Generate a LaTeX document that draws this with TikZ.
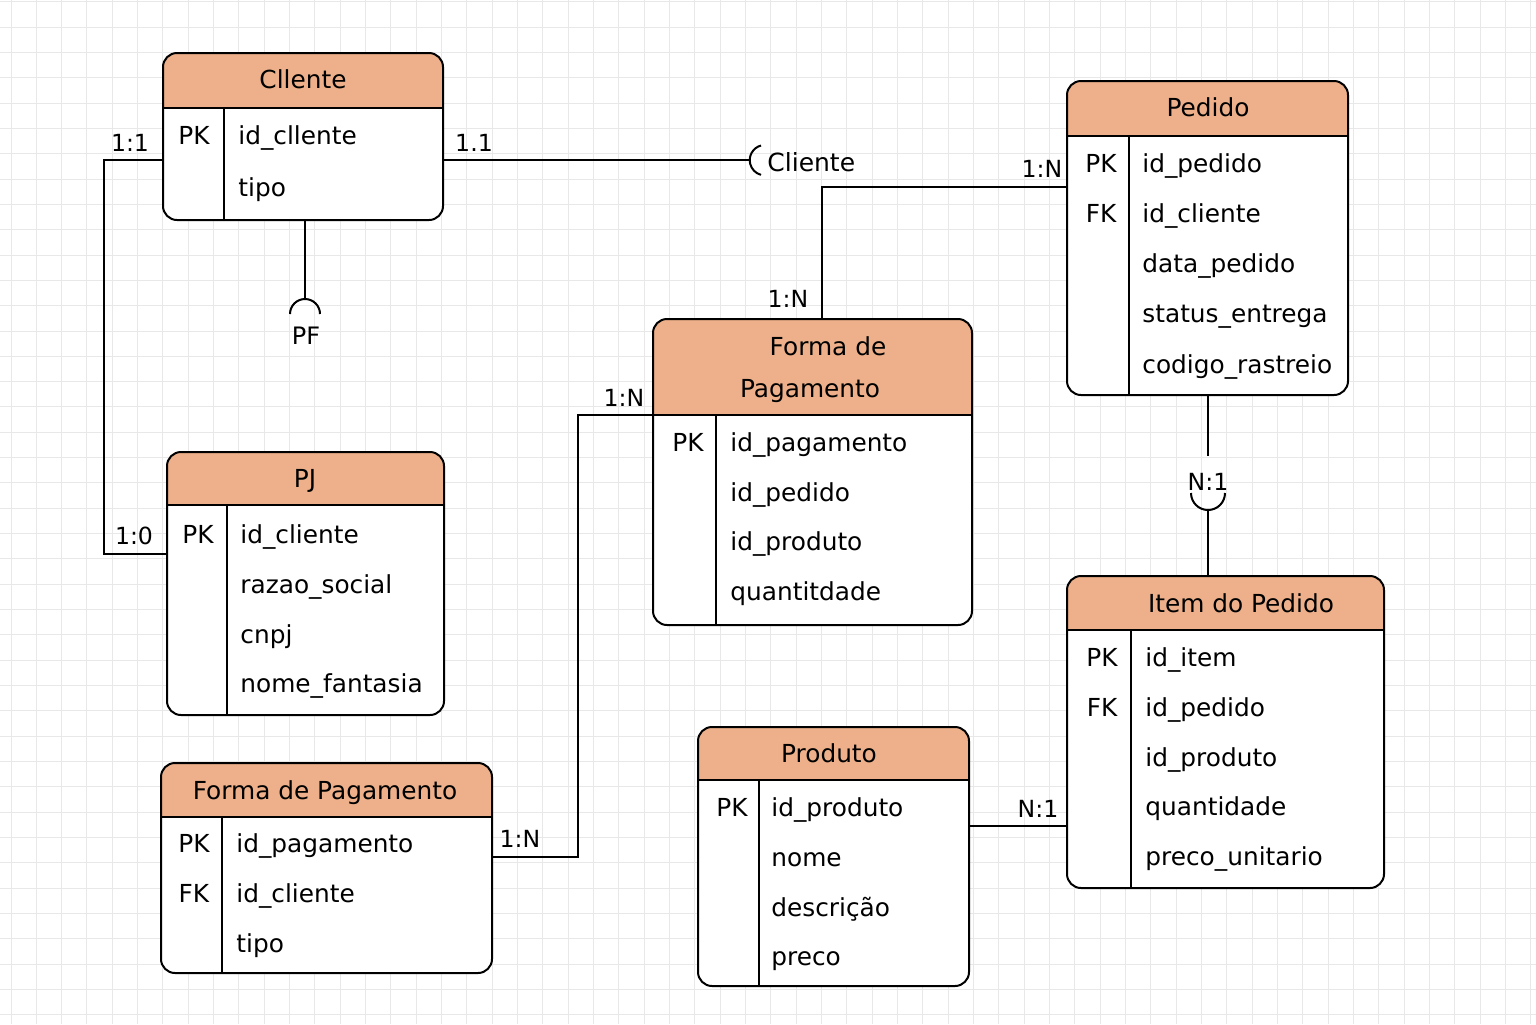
\documentclass[tikz,border=0pt]{standalone}
\usepackage{fontspec}
\setmainfont{DejaVu Sans}
\definecolor{gridc}{HTML}{E8E8E8}
\definecolor{headc}{HTML}{EDB08A}
\tikzset{
  gridln/.style={draw=gridc, line width=0.5pt},
  tbl/.style={draw=black, line width=1pt, rounded corners=7pt, inner sep=0pt, outer sep=0pt},
  tline/.style={line width=1pt},
  hdfill/.style={fill=headc},
  conn/.style={line width=1pt},
  attr/.style={anchor=base west, inner sep=0pt, font=\fontsize{12.4}{14}\selectfont},
  keyt/.style={anchor=base, inner sep=0pt, font=\fontsize{12.4}{14}\selectfont},
  ttl/.style={anchor=base, inner sep=0pt, font=\fontsize{12.4}{14}\selectfont},
  card/.style={anchor=base, inner sep=0pt, font=\fontsize{11.8}{13}\selectfont},
}
\newcommand\ertable[7]{%
  \begin{scope}
    \clip[rounded corners=7pt] (#2,#3) rectangle (#4,#5);
    \fill[white] (#2,#3) rectangle (#4,#5);
    \fill[hdfill] (#2,#3) rectangle (#4,#6);
  \end{scope}
  \draw[tline] (#2,#6) -- (#4,#6) (#7,#6) -- (#7,#5);
  \node[tbl, minimum width={(#4-#2)*0.5pt}, minimum height={(#5-#3)*0.5pt}] (#1) at ({(#2+#4)/2},{(#3+#5)/2}) {};
}
\newcommand\errow[6]{%
  \node[keyt] (#1k) at ({#2},{#4+9}) {#5};
  \node[attr] (#1a) at ({#3},{#4+9}) {#6};
}
\begin{document}
\begin{tikzpicture}[x=0.5pt,y=-0.5pt]
\useasboundingbox (0,0) rectangle (1536,1024);
\fill[white] (0,0) rectangle (1536,1024);
\foreach \i in {0,...,60} \draw[gridln] ({11+25.33*\i},0) -- ({11+25.33*\i},1024);
\foreach \j in {0,...,40} \draw[gridln] (0,{1.7+25.33*\j}) -- (1536,{1.7+25.33*\j});

% ---------- tables ----------
\ertable{cliente}{163}{53}{443}{220}{108}{224}
\node[ttl] (clienteT) at (303,88) {Cllente};
\errow{cliR1}{194}{238}{135}{PK}{id\_cllente}
\errow{cliR2}{194}{238}{187}{}{tipo}

\ertable{pj}{167}{452}{444}{715}{505}{227}
\node[ttl] (pjT) at (305,487) {PJ};
\errow{pjR1}{198}{240}{534}{PK}{id\_cliente}
\errow{pjR2}{198}{240}{584}{}{razao\_social}
\errow{pjR3}{198}{240}{634}{}{cnpj}
\errow{pjR4}{198}{240}{683}{}{nome\_fantasia}

\ertable{fpa}{161}{763}{492}{973}{817}{222}
\node[ttl] (fpaT) at (325,799) {Forma de Pagamento};
\errow{fpaR1}{194}{236}{843}{PK}{id\_pagamento}
\errow{fpaR2}{194}{236}{893}{FK}{id\_cliente}
\errow{fpaR3}{194}{236}{943}{}{tipo}

\ertable{fpb}{653}{319}{972}{625}{415}{716}
\node[ttl] (fpbT1) at (828,355) {Forma de};
\node[ttl] (fpbT2) at (810,397) {Pagamento};
\errow{fpbR1}{688}{730}{442}{PK}{id\_pagamento}
\errow{fpbR2}{688}{730}{492}{}{id\_pedido}
\errow{fpbR3}{688}{730}{541}{}{id\_produto}
\errow{fpbR4}{688}{730}{591}{}{quantitdade}

\ertable{produto}{698}{727}{969}{986}{780}{759}
\node[ttl] (produtoT) at (829,762) {Produto};
\errow{prR1}{732}{771}{807}{PK}{id\_produto}
\errow{prR2}{732}{771}{857}{}{nome}
\errow{prR3}{732}{771}{907}{}{descrição}
\errow{prR4}{732}{771}{956}{}{preco}

\ertable{pedido}{1067}{81}{1348}{395}{136}{1129}
\node[ttl] (pedidoT) at (1208,116) {Pedido};
\errow{peR1}{1101}{1142}{163}{PK}{id\_pedido}
\errow{peR2}{1101}{1142}{213}{FK}{id\_cliente}
\errow{peR3}{1101}{1142}{263}{}{data\_pedido}
\errow{peR4}{1101}{1142}{313}{}{status\_entrega}
\errow{peR5}{1101}{1142}{364}{}{codigo\_rastreio}

\ertable{item}{1067}{576}{1384}{888}{630}{1131}
\node[ttl] (itemT) at (1241,612) {Item do Pedido};
\errow{itR1}{1102}{1145}{657}{PK}{id\_item}
\errow{itR2}{1102}{1145}{707}{FK}{id\_pedido}
\errow{itR3}{1102}{1145}{757}{}{id\_produto}
\errow{itR4}{1102}{1145}{806}{}{quantidade}
\errow{itR5}{1102}{1145}{856}{}{preco\_unitario}

% ---------- connectors ----------
% Cliente -- PJ
\draw[conn] (cliente.west |- 0,160) -| (104,554) -- (pj.west |- 0,554);
\node[card] (l11) at (130,151) {1:1};
\node[card] (l10) at (134,544) {1:0};

% Cliente -- "Cliente"
\coordinate (clcap) at (750,160);
\draw[conn] (cliente.east |- 0,160) -- (clcap);
\draw[conn] (761,145.5) arc[start angle=105,end angle=255,radius=7.6pt];
\node[anchor=base west, inner sep=0pt, font=\fontsize{12.5}{14}\selectfont] (clref) at (767,171) {Cliente};
\node[card] (l1p1) at (474,151) {1.1};

% Cliente -- PF
\coordinate (pfcap) at (305,299);
\draw[conn] (cliente.south -| 305,0) -- (pfcap);
\draw[conn] (290,314) arc[start angle=180,end angle=0,radius=7.5pt];
\node[anchor=base, inner sep=0pt, font=\fontsize{12}{14}\selectfont] (pf) at (306,344) {PF};

% Pedido -- Forma de Pagamento (middle)
\draw[conn] (pedido.west |- 0,187) -| (fpb.north -| 822,0);
\node[card] (l1n1) at (1042,177) {1:N};
\node[card] (l1n2) at (788,307) {1:N};

% Forma de Pagamento (middle) -- Forma de Pagamento (bottom)
\draw[conn] (fpb.west |- 0,415) -| (578,857) -- (fpa.east |- 0,857);
\node[card] (l1n3) at (624,406) {1:N};
\node[card] (l1n4) at (520,847) {1:N};

% Pedido -- Item do Pedido
\node[card] (ln11) at (1208,490) {N:1};
\draw[conn] (pedido.south -| 1208,0) -- (1208,456);
\draw[conn] (1191,493) arc[start angle=180,end angle=360,radius=8.5pt];
\draw[conn] (1208,510) -- (item.north -| 1208,0);

% Produto -- Item do Pedido
\draw[conn] (produto.east |- 0,826) -- (item.west |- 0,826);
\node[card] (ln12) at (1038,817) {N:1};
\end{tikzpicture}
\end{document}
